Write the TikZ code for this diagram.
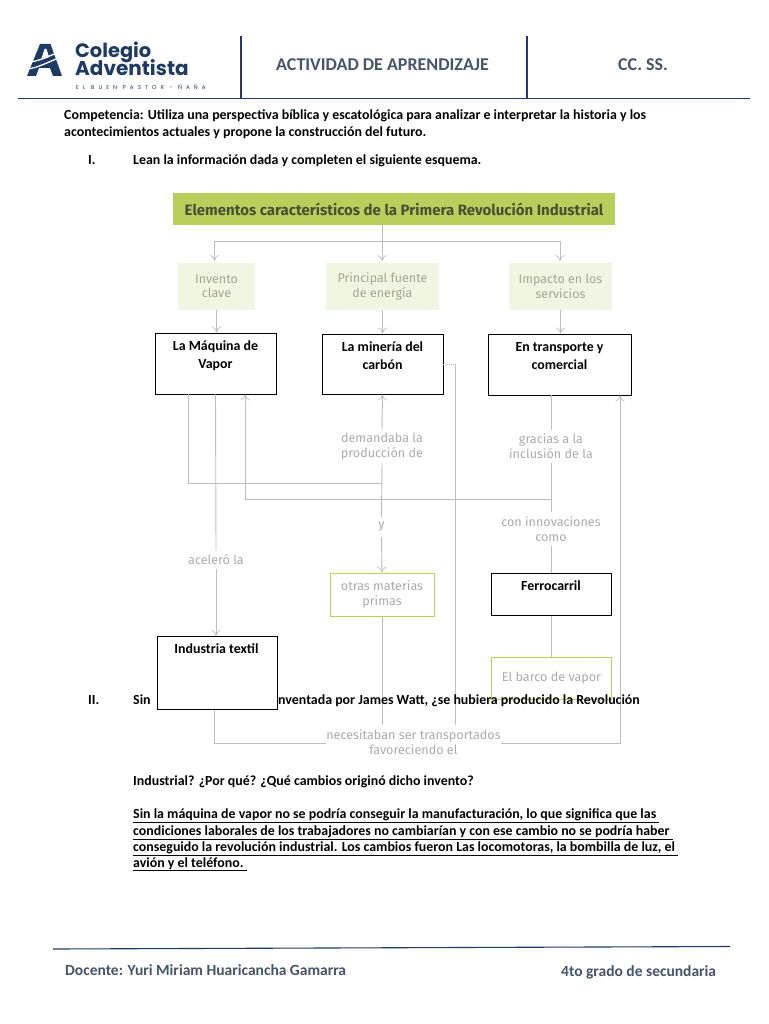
\documentclass[tikz,border=0pt]{standalone}
\usepackage{fontspec}
\setmainfont{Carlito}
\newfontfamily\logofont{Poppins}
\newfontfamily\logosmall[LetterSpace=72]{Poppins}
\newfontfamily\dinfont{Fira Sans}
\usetikzlibrary{arrows.meta}
\definecolor{navy}{HTML}{1F3B63}
\definecolor{slateb}{HTML}{44546A}
\definecolor{conn}{HTML}{BDBDBD}
\definecolor{band}{HTML}{B9CF5B}
\definecolor{bandtext}{HTML}{4A5035}
\definecolor{pale}{HTML}{F1F5E3}
\definecolor{palet}{HTML}{A5A596}
\definecolor{greenl}{HTML}{BBD155}
\definecolor{labelg}{HTML}{ABABAB}
\tikzset{
  x=1pt,y=-1pt,
  body/.style={anchor=base west,inner sep=0pt,font=\fontsize{13.9}{16}\selectfont\bfseries,text=black},
  head/.style={anchor=base west,inner sep=0pt,font=\fontsize{18}{20}\selectfont\bfseries,text=slateb},
  foot/.style={anchor=base west,inner sep=0pt,font=\fontsize{15.5}{17}\selectfont\bfseries,text=slateb},
  softbox/.style={fill=pale,draw=none,align=center,inner sep=0pt,font=\dinfont\fontsize{12.5}{14.5}\selectfont,text=palet},
  answerbox/.style={draw=black,line width=0.9pt,fill=white,inner sep=0pt},
  answertext/.style={align=center,inner sep=0pt,anchor=base,font=\fontsize{13.9}{18}\selectfont\bfseries,text=black},
  greenbox/.style={draw=greenl,line width=1pt,fill=white,align=center,inner sep=0pt,font=\dinfont\fontsize{12.6}{14.5}\selectfont,text=labelg},
  greenedge/.style={draw=greenl,line width=1pt},
  lbl/.style={align=center,inner sep=0pt,font=\dinfont\fontsize{12.6}{15}\selectfont,text=labelg},
  conline/.style={draw=conn,line width=0.9pt},
  conarrow/.style={conline,-{To[length=6pt,width=9pt,line width=0.7pt]}},
  rule/.style={draw=navy,line width=1.1pt},
}
\begin{document}
\begin{tikzpicture}
\useasboundingbox[fill=white] (0,0) rectangle (768,1024);
% ---------- header
\draw[rule] (18,98.5) -- (750,98.5);
\draw[rule] (241,36) -- (241,98);
\draw[rule] (527,36) -- (527,98);
% logo mark
\fill[navy] (27,76) -- (40,44) -- (50.5,44) -- (62,76) -- (53,76) -- (50,68) -- (39,68) -- (36,76) -- cycle;
\fill[white] (44.5,49) -- (41,60) -- (49,57) -- (46.5,49) -- cycle;
\draw[white,line width=1.3pt] (28,62) .. controls (38,62) and (48,56) .. (60,52);
\draw[white,line width=1.3pt] (27,69) .. controls (38,68) and (48,62) .. (61,57);
\node[anchor=base west,inner sep=0pt,font=\logofont\bfseries\fontsize{19.4}{20}\selectfont,text=navy] (logoa) at (75,57.5) {Colegio};
\node[anchor=base west,inner sep=0pt,font=\logofont\bfseries\fontsize{20}{20}\selectfont,text=navy] (logob) at (75,76) {Adventista};
\node[anchor=base west,inner sep=0pt,font=\logosmall\fontsize{5.6}{7}\selectfont,text=navy] (logoc) at (76,89.5) {EL BUEN PASTOR - ÑAÑA};
\node[head] (title) at (276,70.5) {ACTIVIDAD DE APRENDIZAJE};
\node[head] (area) at (618,71) {CC. SS.};
% ---------- body text
\node[body] (c1) at (64,119.5) {Competencia: Utiliza una perspectiva bíblica y escatológica para analizar e interpretar la historia y los};
\node[body] (c2) at (64,136.5) {acontecimientos actuales y propone la construcción del futuro.};
\node[body] (n1) at (88,165) {I.};
\node[body] (t1) at (133,165) {Lean la información dada y completen el siguiente esquema.};
% ---------- scheme
\node[fill=band,minimum width=442pt,minimum height=32pt,inner sep=0pt,font=\dinfont\bfseries\fontsize{15}{16}\selectfont,text=bandtext] (top) at (394,209) {Elementos característicos de la Primera Revolución Industrial};
\node[softbox,minimum width=77pt,minimum height=47pt] (s1) at (216.5,286.5) {Invento\\clave};
\node[softbox,minimum width=113pt,minimum height=47pt] (s2) at (382.5,286.5) {Principal fuente\\de energía};
\node[softbox,minimum width=103pt,minimum height=47pt] (s3) at (560.5,286.5) {Impacto en los\\servicios};
\node[answerbox,minimum width=121pt,minimum height=61pt] (b1) at (215.5,363.5) {};
\node[answerbox,minimum width=121pt,minimum height=60pt] (b2) at (382.5,364) {};
\node[answerbox,minimum width=143pt,minimum height=61pt] (b3) at (559.5,364.5) {};
\node[answertext] (b1t) at (215.5,368.5) {La Máquina de\\[0pt]Vapor};
\node[answertext] (b2t) at (382.5,369) {La minería del\\[0pt]carbón};
\node[answertext] (b3t) at (559.5,369) {En transporte y\\[0pt]comercial};
\node[lbl,minimum height=33pt] (d1) at (382,446.5) {demandaba la\\producción de};
\node[lbl,minimum height=33pt] (d2) at (551,446.5) {gracias a la\\inclusión de la};
\node[lbl,minimum height=33pt] (d3) at (551,529) {con innovaciones\\como};
\node[lbl,minimum height=20pt] (d4) at (381.5,527) {y};
\node[lbl,minimum height=18pt] (d5) at (216,559.5) {aceleró la};
\node[lbl] (d6) at (413.5,742.5) {necesitaban ser transportados\\favoreciendo el};
\node[greenbox,minimum width=104pt,minimum height=43pt] (g1) at (382,594.5) {otras materias\\primas};
\node[align=center,inner sep=0pt,font=\dinfont\fontsize{12.6}{14.5}\selectfont,text=labelg,minimum width=120pt,minimum height=42pt] (g2) at (551.5,678.5) {El barco de vapor};
% coordinates for junctions
\coordinate (j0) at (382,241);
\coordinate (j1) at (214.5,241);
\coordinate (j2) at (560,241);
\coordinate (j3) at (188,483);
\coordinate (j4) at (382,483);
\coordinate (j5) at (245,499);
\coordinate (j6) at (551,499);
\coordinate (j7) at (214,743);
\coordinate (j8) at (620,743);
\coordinate (j9) at (455,364);
\coordinate (j10) at (455,725);
\coordinate (j11) at (382,725);
% connectors
\draw[conline] (top.south -| j0) -- (j0);
\draw[conline] (j1) -- (j2);
\draw[conarrow] (j1) -- (j1 |- 0,261);
\draw[conarrow] (j0) -- (j0 |- 0,261);
\draw[conarrow] (j2) -- (j2 |- 0,261);
\draw[conarrow] (s1.south) -- (s1.south |- b1.north);
\draw[conarrow] (s2.south) -- (s2.south |- b2.north);
\draw[conarrow] (s3.south) -- (s3.south |- b3.north);
\draw[conline] (b1.south -| j3) -- (j3) -- (j4);
\draw[conline] (d1.south) -- (d4.north);
\draw[conarrow] (d1.north) -- (b2.south);
\draw[conarrow] (d4.south) -- (g1.north);
\draw[conline] (g1.south) -- (j11);
\draw[conarrow] (j6) -- (j5) -- (j5 |- b1.south);
\draw[conline] (b3.south -| j6) -- (d2.north);
\draw[conline] (d2.south) -- (d3.north);
\draw[conline] (d3.south) -- (d3.south |- 0,573);
\draw[conline] (b1.south) -- (d5.north);
\draw[conarrow] (d5.south) -- (d5.south |- 0,636);
\draw[conline,densely dotted,line width=0.7pt] (b2.east |- j9) -- (j9);
\draw[conline] (j9) -- (j10);
\draw[conline] (g2.north -| d3.south) -- (d3.south |- 0,615);
\draw[conline] (j7 |- 0,708) -- (j7) -- (d6.west |- j7);
\draw[conarrow] (d6.east |- j8) -- (j8) -- (j8 |- b3.south);
% question II text (under the answer box)
\node[body] (n2) at (88,704) {II.};
\node[body] (q1) at (133,704) {Sin};
\draw[greenedge] (g2.north west) rectangle (g2.south east);
\node[anchor=base east,inner sep=0pt,font=\fontsize{13.9}{16}\selectfont\bfseries] (q2) at (640,704) {inventada por James Watt, ¿se hubiera producido la Revolución};
\node[answerbox,minimum width=120pt,minimum height=73pt] (b4) at (217,672.5) {};
\node[answertext] (b4t) at (216.5,653) {Industria textil};
\node[answerbox,minimum width=120pt,minimum height=42pt] (b5) at (551.5,594) {};
\node[answertext] (b5t) at (551,590) {Ferrocarril};
% ---------- answer text
\node[body] (q3) at (133,785) {Industrial? ¿Por qué? ¿Qué cambios originó dicho invento?};
\node[body] (a1) at (133,818) {\underline{Sin la máquina de vapor no se podría conseguir la manufacturación, lo que significa que las\ }};
\node[body] (a2) at (133,835) {\underline{condiciones laborales de los trabajadores no cambiarían y con ese cambio no se podría haber\ }};
\node[body] (a3) at (133,851) {\underline{conseguido la revolución industrial. Los cambios fueron Las locomotoras, la bombilla de luz, el\ }};
\node[body] (a4) at (133,867) {\underline{avión y el teléfono.\ }};
% ---------- footer
\draw[rule] (53,949) -- (730,946.5);
\node[foot] (f1) at (65,975.5) {Docente: Yuri Miriam Huaricancha Gamarra};
\node[foot] (f2) at (561,976.5) {4to grado de secundaria};
\end{tikzpicture}
\end{document}
